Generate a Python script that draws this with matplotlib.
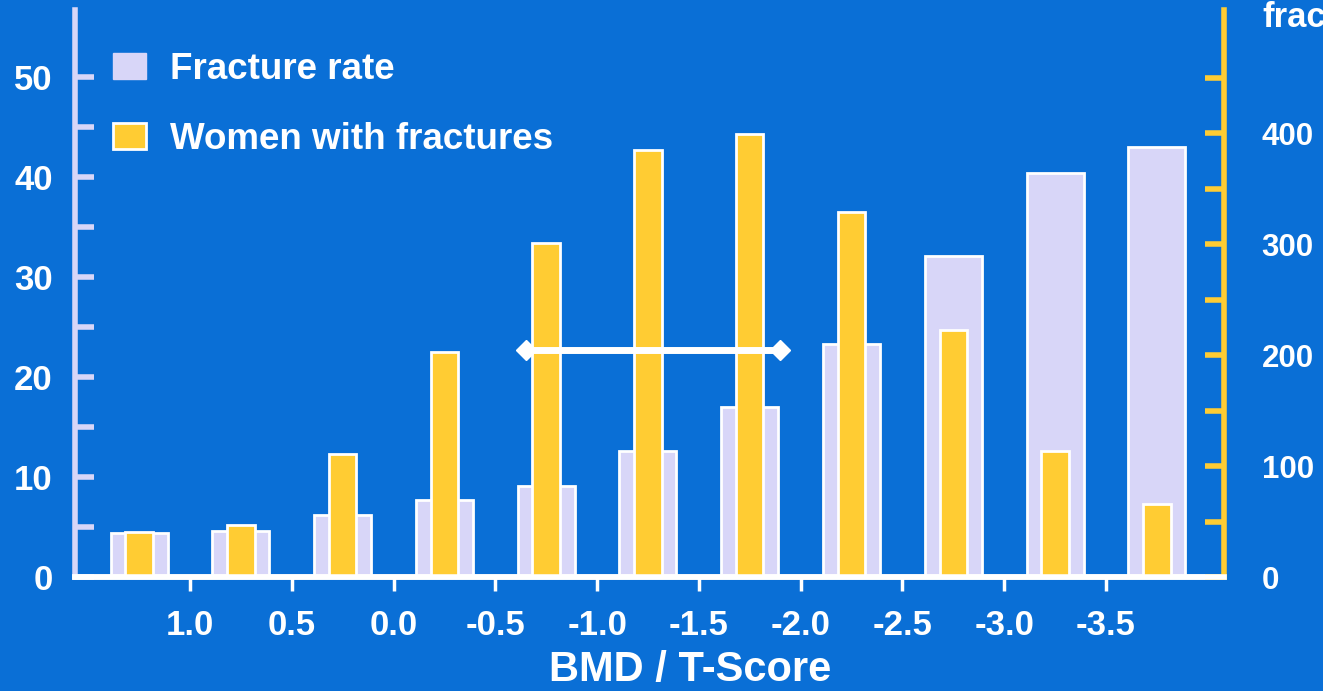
#!/usr/bin/env python3

import matplotlib.pyplot as plt
from matplotlib.patches import Patch
from matplotlib.ticker import FixedLocator

# BMD / T-score classes and the two series
t_score_ticks = ['1.0', '0.5', '0.0', '-0.5', '-1.0', '-1.5', '-2.0', '-2.5', '-3.0', '-3.5']
fracture_rate = [4.4, 4.6, 6.2, 7.7, 9.1, 12.6, 17.0, 23.3, 32.1, 40.4, 43.0]
women_with_fractures = [41, 47, 111, 203, 301, 385, 399, 329, 223, 114, 66]

# horizontal range marker (bar-index units, right-axis value)
bracket_x = [3.8, 6.3]
bracket_y = 205

bg = '#0a6fd6'
lavender = '#d8d6f8'
yellow = '#ffcc33'
white = 'white'

plt.rcParams['font.family'] = ['Liberation Sans', 'DejaVu Sans']
plt.rcParams['font.weight'] = 'bold'

fig = plt.figure(figsize=(13.23, 6.91), dpi=100, facecolor=bg)
ax = fig.add_axes([75 / 1323, 1 - 577 / 691, 1149 / 1323, 567 / 691])
ax.set_facecolor('none')
ax2 = ax.twinx()
ax2.set_facecolor('none')

x = list(range(len(fracture_rate)))

ax.bar(x, fracture_rate, width=0.56, color=lavender, edgecolor=white, linewidth=2)
ax2.bar(x, women_with_fractures, width=0.27, color=yellow, edgecolor=white, linewidth=2)
ax2.plot(bracket_x, [bracket_y, bracket_y], color=white, lw=5,
         marker='D', markersize=10, markeredgecolor=white, solid_capstyle='butt')

ax.set_xlim(-0.63, 10.66)
ax.set_ylim(0, 56.7)
ax2.set_ylim(0, 511)

# left axis
ax.yaxis.set_major_locator(FixedLocator([0, 10, 20, 30, 40, 50]))
ax.yaxis.set_minor_locator(FixedLocator([5, 15, 25, 35, 45]))
ax.tick_params(axis='y', which='both', direction='in', length=14, width=4,
               color=lavender, labelcolor=white, labelsize=25, pad=16)

# right axis
ax2.yaxis.set_major_locator(FixedLocator([0, 100, 200, 300, 400]))
ax2.yaxis.set_minor_locator(FixedLocator([50, 150, 250, 350, 450]))
ax2.tick_params(axis='y', which='both', direction='in', length=14, width=4,
                color=yellow, labelcolor=white, labelsize=22.5, pad=27)

# x axis, ticks between the bars
ax.set_xticks([i + 0.5 for i in range(len(t_score_ticks))])
ax.set_xticklabels(t_score_ticks)
ax.tick_params(axis='x', direction='out', length=10, width=2.5, color=white,
               labelcolor=white, labelsize=25, pad=13)
ax2.tick_params(axis='x', length=0)

for a in (ax, ax2):
    a.spines['top'].set_visible(False)
    a.spines['bottom'].set_color(white)
    a.spines['bottom'].set_linewidth(4)
ax.spines['left'].set_color(lavender)
ax.spines['left'].set_linewidth(4)
ax.spines['right'].set_visible(False)
ax2.spines['left'].set_visible(False)
ax2.spines['right'].set_color(yellow)
ax2.spines['right'].set_linewidth(4)

ax.set_xlabel('BMD / T-Score', color=white, fontsize=30, fontweight='bold')
ax.xaxis.set_label_coords((690 - 75) / 1149, -0.128)

handles = [Patch(facecolor=lavender, edgecolor=lavender, label='Fracture rate'),
           Patch(facecolor=yellow, edgecolor=white, linewidth=2, label='Women with fractures')]
leg = ax2.legend(handles=handles, loc='upper left', bbox_to_anchor=(0.033, 0.926),
                 frameon=False, fontsize=26.5, handlelength=0.9, handleheight=0.73,
                 handletextpad=0.65, labelspacing=0.95, borderpad=0, borderaxespad=0)
for t in leg.get_texts():
    t.set_color(white)
    t.set_fontweight('bold')

# right-axis title, cut off at the image edge as in the source slide
fig.text(1262 / 1323, 1 - 1 / 691, 'fractures', color=white, fontsize=25,
         fontweight='bold', va='top', ha='left')

fig.savefig('out.png', dpi=100, facecolor=bg)
